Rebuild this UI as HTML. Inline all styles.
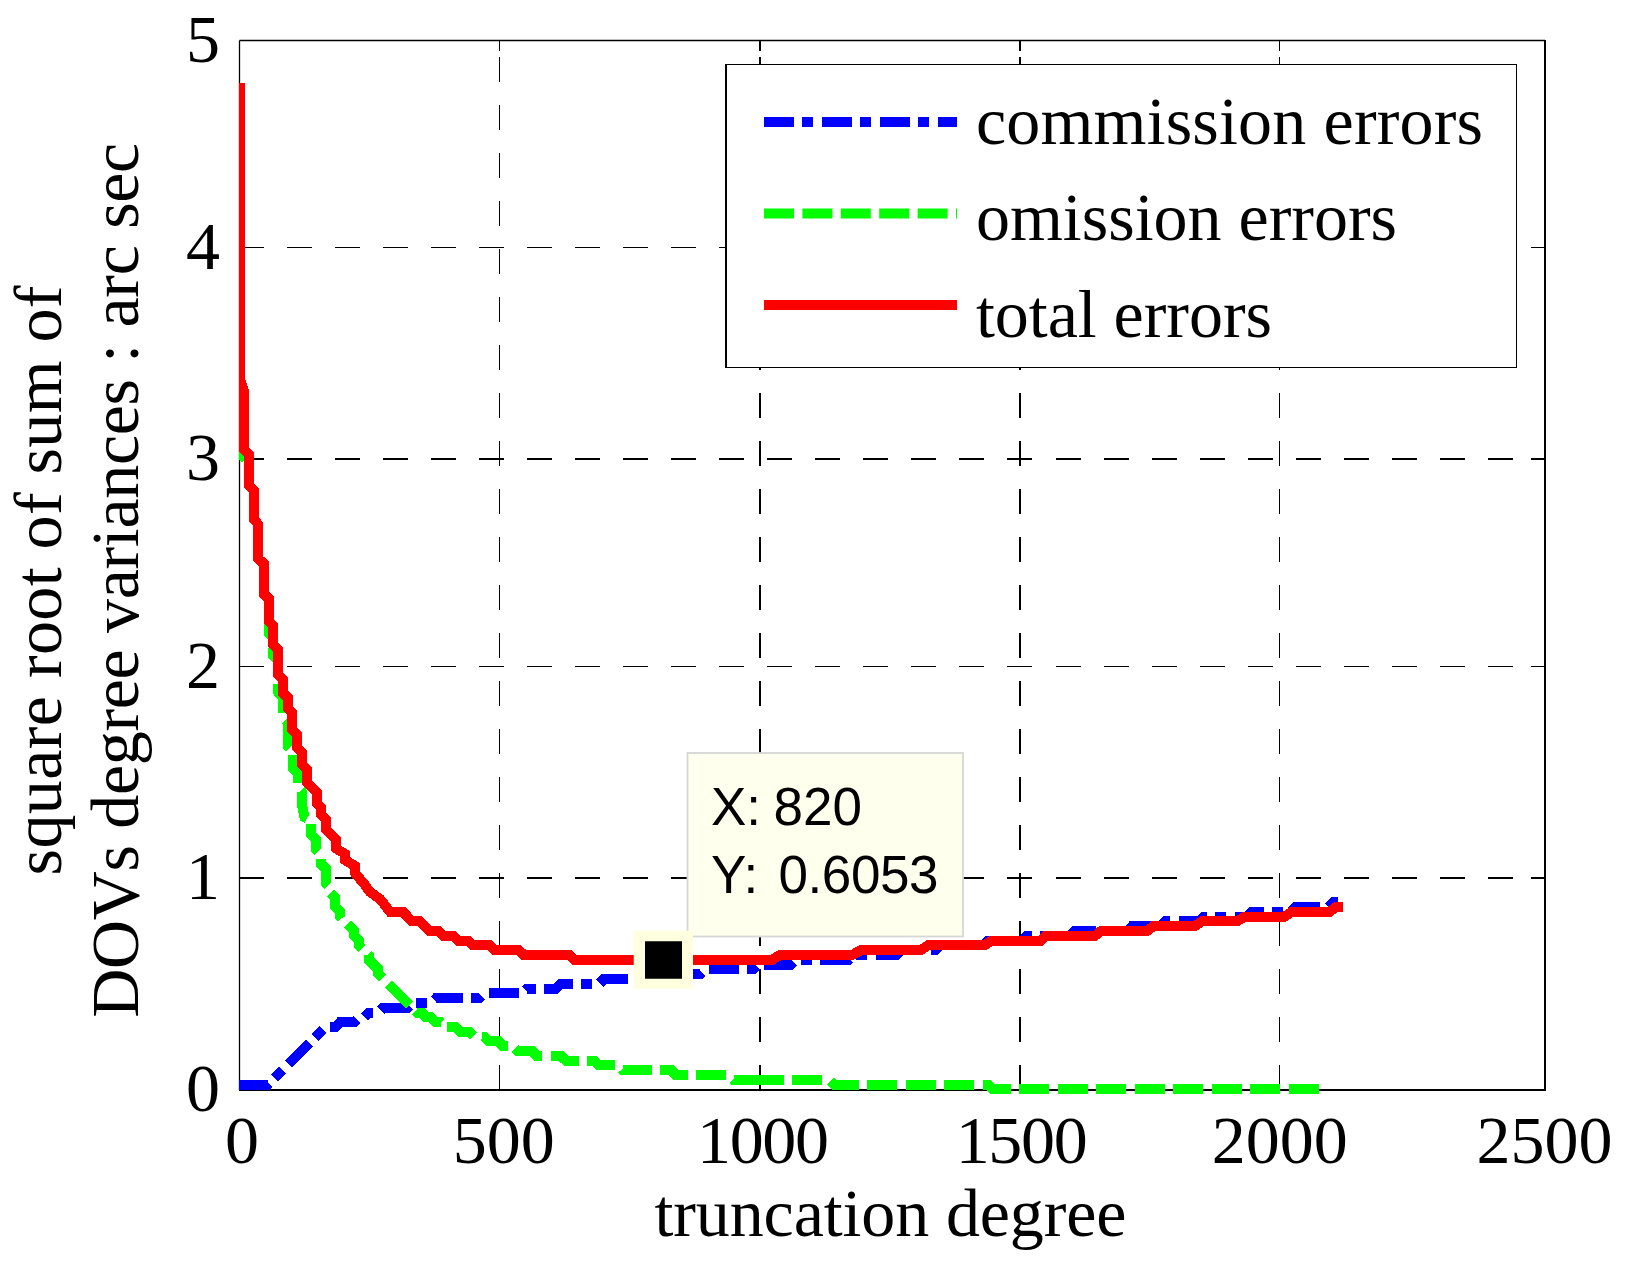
<!DOCTYPE html>
<html lang="en"><head><meta charset="utf-8"><title>truncation degree errors</title>
<style>html,body{margin:0;padding:0;background:#fff}svg{display:block}text{font-family:"Liberation Serif",serif;fill:#000}.s{font-family:"Liberation Sans",sans-serif}</style></head><body>
<svg width="1630" height="1264" viewBox="0 0 1630 1264">
<rect width="1630" height="1264" fill="#fff"/>
<g stroke="#000" fill="none" shape-rendering="crispEdges"><path d="M239 247.5H1545.0" stroke-width="1" stroke-dasharray="25 23.03"/><path d="M239 459H1545.0" stroke-width="2" stroke-dasharray="25 23.03"/><path d="M239 666.5H1545.0" stroke-width="1" stroke-dasharray="25 23.03"/><path d="M239 878H1545.0" stroke-width="2" stroke-dasharray="25 23.03"/><path d="M499.5 1090.0V40.5" stroke-width="1" stroke-dasharray="25 23"/><path d="M760 1090.0V40.5" stroke-width="2" stroke-dasharray="25 23"/><path d="M1020 1090.0V40.5" stroke-width="2" stroke-dasharray="25 23"/><path d="M1279.5 1090.0V40.5" stroke-width="1" stroke-dasharray="25 23"/></g>
<path d="M499.5 40.5v10M499.5 1090.0v-14" stroke="#000" stroke-width="1" fill="none" shape-rendering="crispEdges"/>
<path d="M760 40.5v10M760 1090.0v-14" stroke="#000" stroke-width="2" fill="none" shape-rendering="crispEdges"/>
<path d="M1020 40.5v10M1020 1090.0v-14" stroke="#000" stroke-width="2" fill="none" shape-rendering="crispEdges"/>
<path d="M1279.5 40.5v10M1279.5 1090.0v-14" stroke="#000" stroke-width="1" fill="none" shape-rendering="crispEdges"/>
<path d="M239.5 247.5h10M1545.0 247.5h-14" stroke="#000" stroke-width="1" fill="none" shape-rendering="crispEdges"/>
<path d="M239.5 459h10M1545.0 459h-14" stroke="#000" stroke-width="2" fill="none" shape-rendering="crispEdges"/>
<path d="M239.5 666.5h10M1545.0 666.5h-14" stroke="#000" stroke-width="1" fill="none" shape-rendering="crispEdges"/>
<path d="M239.5 878h10M1545.0 878h-14" stroke="#000" stroke-width="2" fill="none" shape-rendering="crispEdges"/>
<path d="M239.5 40.5H1545.0" stroke="#000" stroke-width="1.5" fill="none"/>
<path d="M239.5 40.5V1090.0" stroke="#000" stroke-width="1.3" fill="none"/>
<path d="M1545.0 40.0V1091.0" stroke="#000" stroke-width="2" fill="none"/>
<path d="M239.0 1090.0H1546.0" stroke="#000" stroke-width="2" fill="none"/>
<clipPath id="ax"><rect x="239.0" y="40.5" width="1306.0" height="1055.5"/></clipPath>
<g clip-path="url(#ax)" fill="none" stroke-width="10" stroke-linejoin="miter" shape-rendering="crispEdges">
<path d="M239.2 1084.5 L268.0 1084.5 L325.6 1027.0 L335.2 1027.0 L340.0 1022.1 L354.4 1022.1 L359.2 1017.4 L364.0 1017.4 L368.8 1012.5 L378.4 1012.5 L383.2 1007.8 L407.2 1007.8 L412.0 1003.0 L431.2 1003.0 L436.0 998.1 L479.2 998.1 L484.0 993.4 L522.4 993.4 L527.2 988.5 L556.0 988.5 L560.8 983.8 L599.2 983.8 L604.0 979.0 L637.6 979.0 L642.4 974.1 L700.0 974.1 L704.8 969.4 L752.8 969.4 L757.6 964.5 L791.2 964.5 L796.0 959.8 L848.8 959.8 L853.6 955.0 L896.8 955.0 L901.6 950.1 L935.2 950.1 L940.0 945.4 L983.2 945.4 L988.0 940.5 L1021.6 940.5 L1026.4 935.8 L1068.0 935.8" stroke="#0000ff" stroke-dasharray="30 8 11 8.5"/>
<path d="M1068.0 935.8 L1069.6 935.8 L1074.4 931.0 L1127.2 931.0 L1132.0 926.1 L1160.8 926.1 L1165.6 921.4 L1199.2 921.4 L1204.0 916.5 L1247.2 916.5 L1252.0 911.8 L1290.4 911.8 L1295.2 907.0 L1328.8 907.0 L1333.6 902.1 L1343.2 902.1" stroke="#0000ff" stroke-dasharray="30 8.5 11 9"/>
<path d="M239.5 452.5 L244.0 457.0 L248.8 461.5 L248.8 485.5 L253.8 490.5 L253.8 519.5 L258.4 524.5 L258.4 558.5 L263.5 563.5 L263.5 593.5 L263.5 593.5 L268.5 598.5 L268.8 633.0 L273.0 638.0 L273.0 655.0 L278.0 660.0 L278.0 692.0 L282.5 697.0 L282.5 717.0 L287.5 722.0 L287.5 746.0 L292.5 752.0 L292.5 768.0 L297.5 773.0 L297.5 787.0 L302.0 792.0 L302.0 805.0 L304.5 817.0 L311.2 820.5 L311.2 835.0 L316.0 839.8 L316.0 849.4 L320.8 854.1 L320.8 863.8 L325.6 868.5 L325.6 883.0 L330.4 887.8 L330.4 892.5 L335.2 897.4 L335.2 907.0 L340.0 911.8 L340.0 916.5 L354.4 931.0 L354.4 935.8 L359.2 940.5 L359.2 945.4 L368.8 955.0 L368.8 959.8 L378.4 969.4 L378.4 974.1 L416.8 1012.5 L421.6 1012.5 L426.4 1017.4 L431.2 1017.4 L436.0 1022.1 L440.8 1022.1 L445.6 1027.0 L455.2 1027.0 L460.0 1031.8 L469.6 1031.8 L474.4 1036.5 L484.0 1036.5 L488.8 1041.3 L498.4 1041.3 L503.2 1046.2 L512.8 1046.2 L517.6 1051.0 L532.0 1051.0 L536.8 1055.8 L560.8 1055.8 L565.6 1060.5 L594.4 1060.5 L599.2 1065.3 L618.4 1065.3 L623.2 1070.2 L671.2 1070.2 L676.0 1075.0 L728.8 1075.0 L733.6 1079.8 L753.8 1079.8" stroke="#00ff00" stroke-dasharray="30 8.4" stroke-dashoffset="-17"/>
<path d="M753.8 1079.8 L829.6 1079.8 L834.4 1084.5 L988.0 1084.5 L992.8 1089.3 L1324.0 1089.3" stroke="#00ff00" stroke-dasharray="30 8.5"/>
<path d="M734 1079.8H754" stroke="#00ff00"/>
<path d="M240.0 83.0 L240.0 379.0 L244.0 391.0 L244.0 449.5 L248.8 454.5 L248.8 485.5 L253.8 490.5 L253.8 519.5 L258.4 524.5 L258.4 558.5 L263.5 563.5 L263.5 593.5 L268.5 598.5 L268.5 620.5 L273.0 625.5 L273.0 644.5 L277.8 649.5 L277.8 674.0 L282.5 679.0 L282.5 692.5 L287.5 697.5 L287.5 707.5 L292.2 712.5 L292.2 729.5 L297.0 734.5 L297.0 747.5 L301.8 752.5 L301.8 764.5 L306.8 769.5 L306.8 782.0 L316.5 792.0 L316.5 803.0 L321.2 808.0 L321.2 815.0 L326.0 820.0 L326.0 829.0 L335.5 839.0 L335.5 848.0 L345.0 854.0 L345.0 860.0 L355.0 866.0 L355.0 873.0 L365.0 885.0 L370.0 892.0 L380.0 899.0 L390.0 911.8 L403.0 911.8 L412.0 921.4 L420.0 921.4 L430.0 931.0 L438.0 931.0 L443.0 935.8 L453.0 935.8 L458.0 940.5 L468.0 940.5 L473.0 945.4 L490.0 945.4 L495.0 950.1 L519.0 950.1 L524.0 955.0 L569.0 955.0 L574.0 959.8 L772.0 959.8 L780.0 955.0 L852.0 955.0 L861.0 950.1 L921.0 950.1 L928.0 945.4 L984.5 945.4 L992.0 940.5 L1041.0 940.5 L1046.0 935.8 L1095.0 935.8 L1101.0 931.0 L1147.0 931.0 L1153.6 926.1 L1195.0 926.1 L1202.0 921.4 L1237.0 921.4 L1244.7 916.5 L1284.7 916.5 L1292.0 911.8 L1329.6 911.8 L1336.0 907.0 L1343.4 907.0" stroke="#ff0000"/>
</g>
<rect x="726" y="64.5" width="790.5" height="303" fill="#fff"/>
<path d="M725 64.5H1517M725 367.5H1517M1516.5 64V368" stroke="#000" stroke-width="1" fill="none" shape-rendering="crispEdges"/>
<path d="M726 64V368" stroke="#000" stroke-width="2" fill="none" shape-rendering="crispEdges"/>
<g fill="none" stroke-width="10">
<path d="M764 122H957" stroke="#0000ff" stroke-dasharray="30 8 11 9"/>
<path d="M764 213.5H957" stroke="#00ff00" stroke-dasharray="30 8.4"/>
<path d="M764 305H957" stroke="#ff0000"/>
</g>
<text x="976" y="143.75" font-size="68" textLength="507" lengthAdjust="spacing">commission errors</text>
<text x="976" y="240" font-size="68" textLength="421" lengthAdjust="spacing">omission errors</text>
<text x="976" y="337" font-size="68" textLength="296" lengthAdjust="spacing">total errors</text>
<text x="220" y="61.8" font-size="68" text-anchor="end">5</text>
<text x="220" y="268.8" font-size="68" text-anchor="end">4</text>
<text x="220" y="480.3" font-size="68" text-anchor="end">3</text>
<text x="220" y="687.8" font-size="68" text-anchor="end">2</text>
<text x="220" y="899.3" font-size="68" text-anchor="end">1</text>
<text x="220" y="1111.3" font-size="68" text-anchor="end">0</text>
<text x="242" y="1163" font-size="68" text-anchor="middle">0</text>
<text x="503.75" y="1163" font-size="68" text-anchor="middle">500</text>
<text x="763" y="1163" font-size="68" text-anchor="middle" textLength="132" lengthAdjust="spacing">1000</text>
<text x="1021.7" y="1163" font-size="68" text-anchor="middle" textLength="132" lengthAdjust="spacing">1500</text>
<text x="1279.7" y="1163" font-size="68" text-anchor="middle">2000</text>
<text x="1544.5" y="1163" font-size="68" text-anchor="middle">2500</text>
<text x="890.5" y="1235.8" font-size="68" text-anchor="middle" textLength="472" lengthAdjust="spacing">truncation degree</text>
<text transform="translate(61.2 580.5) rotate(-90)" font-size="68" text-anchor="middle" textLength="590" lengthAdjust="spacing">square root of sum of</text>
<text transform="translate(137.6 580.2) rotate(-90)" font-size="68" text-anchor="middle" textLength="875" lengthAdjust="spacing">DOVs degree variances : arc sec</text>
<rect x="687.5" y="753" width="275.5" height="183.5" fill="#ffffee" stroke="#d6d6d6" stroke-width="1.8"/>
<text y="825" font-size="53" class="s"><tspan x="711">X:</tspan><tspan x="773.5">820</tspan></text>
<text y="892.5" font-size="53" class="s"><tspan x="711">Y:</tspan><tspan x="778.5" textLength="160" lengthAdjust="spacing">0.6053</tspan></text>
<rect x="633.75" y="930.75" width="59.25" height="58" fill="#ffffe0"/>
<rect x="645" y="941.25" width="37" height="37.5" fill="#000"/>
</svg></body></html>
